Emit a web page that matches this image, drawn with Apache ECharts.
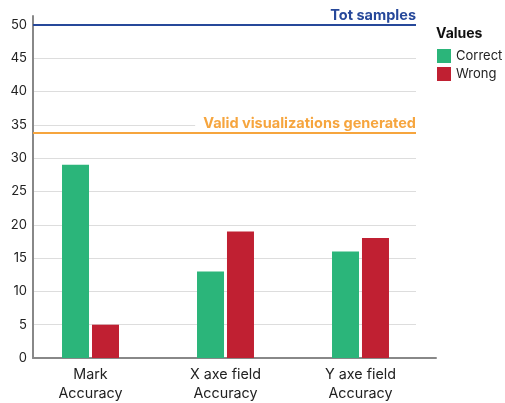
<!DOCTYPE html>
<html>
<head>
<meta charset="utf-8">
<script src="https://cdn.jsdelivr.net/npm/echarts@6/dist/echarts.min.js"></script>
<style>
  html, body { margin: 0; padding: 0; background: #fff; }
  #chart { width: 505px; height: 403px; }
</style>
</head>
<body>
<div id="chart"></div>
<script>
// chart data
const categories = ['Mark\nAccuracy', 'X axe field\nAccuracy', 'Y axe field\nAccuracy'];
const correct = [29, 13, 16];
const wrong = [5, 19, 18];
const seriesNames = ['Correct', 'Wrong'];
const totSamples = 50;
const validGenerated = 33.8;
const yMin = 0;
const yMax = 51.35;
const yStep = 5;

const font = 'Inter, Roboto, sans-serif';
const green = '#2bb57a';
const red = '#c02032';
const blue = '#26489a';
const orange = '#f6a53e';
const axisGray = '#888';

let myChart = echarts.init(document.getElementById('chart'));

// all grids share top/bottom so the value scale lines up
const gridBase = { top: 16, bottom: 45, containLabel: false, outerBoundsMode: 'none' };

function valueAxis(gridIndex, extra) {
    return Object.assign({
        type: 'value',
        gridIndex: gridIndex,
        min: yMin,
        max: yMax,
        interval: yStep,
        axisLine: { show: false },
        axisTick: { show: false },
        axisLabel: { show: false },
        splitLine: { show: false }
    }, extra);
}

let option = {
    textStyle: { fontFamily: font },
    animation: false,
    title: {
        text: 'Values',
        left: 436,
        top: 27,
        padding: 0,
        textStyle: { fontFamily: font, fontSize: 14, fontWeight: 'bold', color: '#111' }
    },
    legend: {
        data: seriesNames,
        orient: 'vertical',
        left: 437,
        top: 49,
        padding: 0,
        icon: 'rect',
        itemWidth: 14,
        itemHeight: 14,
        itemGap: 4,
        textStyle: { fontFamily: font, fontSize: 13, color: '#222' }
    },
    grid: [
        Object.assign({ left: 33, right: 69 }, gridBase),   // axis lines
        Object.assign({ left: 33, right: 89 }, gridBase),   // gridlines, labels, rules
        Object.assign({ left: 23, right: 77 }, gridBase)    // bars
    ],
    xAxis: [
        {
            type: 'category', gridIndex: 0, data: categories,
            axisLine: { show: true, lineStyle: { color: axisGray, width: 2 } },
            axisTick: { show: false }, axisLabel: { show: false }
        },
        {
            type: 'category', gridIndex: 1, data: categories, show: false
        },
        {
            type: 'category', gridIndex: 2, data: categories,
            axisLine: { show: false },
            axisTick: { show: false },
            axisLabel: {
                margin: 7,
                fontFamily: font,
                fontSize: 14.3,
                lineHeight: 19,
                color: '#222',
                interval: 0
            }
        }
    ],
    yAxis: [
        valueAxis(0, { axisLine: { show: true, lineStyle: { color: axisGray, width: 2 } } }),
        valueAxis(1, {
            axisLabel: {
                show: true, margin: 6, fontFamily: font, fontSize: 13, color: '#222',
                showMaxLabel: false
            },
            splitLine: {
                show: true, showMinLine: false, showMaxLine: false,
                lineStyle: { color: '#ddd', width: 1 }
            }
        }),
        valueAxis(2)
    ],
    series: [
        {
            name: 'rules',
            type: 'line',
            xAxisIndex: 1,
            yAxisIndex: 1,
            data: categories.map(() => '-'),
            symbol: 'none',
            silent: true,
            markLine: {
                symbol: 'none',
                silent: true,
                data: [
                    {
                        name: 'Tot samples', yAxis: totSamples,
                        lineStyle: { color: blue, width: 2, type: 'solid' },
                        label: { color: blue }
                    },
                    {
                        name: 'Valid visualizations generated', yAxis: validGenerated,
                        lineStyle: { color: orange, width: 2, type: 'solid' },
                        label: { color: orange, backgroundColor: '#fff', padding: [0, 0, 0, 8] }
                    }
                ],
                label: {
                    show: true,
                    position: 'insideEndTop',
                    distance: [0, 2],
                    formatter: '{b}',
                    fontFamily: font,
                    fontSize: 14.5,
                    fontWeight: 'bold'
                }
            }
        },
        {
            name: seriesNames[0],
            type: 'bar',
            xAxisIndex: 2,
            yAxisIndex: 2,
            data: correct,
            barWidth: 27,
            barGap: '11%',
            itemStyle: { color: green }
        },
        {
            name: seriesNames[1],
            type: 'bar',
            xAxisIndex: 2,
            yAxisIndex: 2,
            data: wrong,
            barWidth: 27,
            barGap: '11%',
            itemStyle: { color: red }
        }
    ]
};
myChart.setOption(option, true);
</script>
</body>
</html>
